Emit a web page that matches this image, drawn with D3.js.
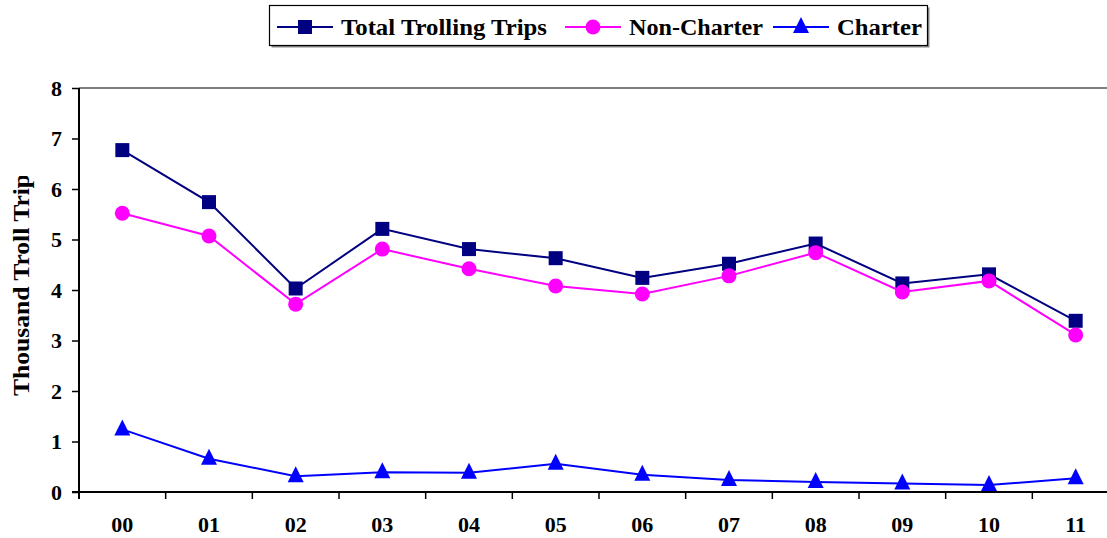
<!DOCTYPE html>
<html><head><meta charset="utf-8">
<script src="https://cdn.jsdelivr.net/npm/d3@7"></script>
<style>body{margin:0;background:#fff}svg{display:block}</style>
</head><body>
<svg id="c" width="1107" height="538"></svg>
<script>
const categories = ["00","01","02","03","04","05","06","07","08","09","10","11"];
const totalTrips = [6.77,5.74,4.03,5.21,4.81,4.63,4.24,4.52,4.92,4.13,4.31,3.39];
const nonCharter = [5.52,5.07,3.72,4.81,4.42,4.08,3.92,4.28,4.74,3.96,4.18,3.11];
const charter = [1.24,0.66,0.31,0.39,0.38,0.56,0.34,0.24,0.20,0.17,0.14,0.27];
const yTicks = [0,1,2,3,4,5,6,7,8];
const seriesNames = ["Total Trolling Trips","Non-Charter","Charter"];

(function () {
const series = [
  {name: seriesNames[0], values: totalTrips, color: "#000080", marker: "square", legendW: 206},
  {name: seriesNames[1], values: nonCharter, color: "#FF00FF", marker: "circle", legendW: 134},
  {name: seriesNames[2], values: charter, color: "#0000FF", marker: "triangle", legendW: 85}
];

const svg = d3.select("#c");
const font = "'Liberation Serif','Times New Roman',serif";
const pLeft = 79, pRight = 1119, pTop = 88, pBottom = 492;

const x = d3.scaleBand().domain(categories).range([pLeft, pRight]);
const y = d3.scaleLinear().domain([0, 8]).range([pBottom, pTop]);

function drawMarker(g, type, cx, cy, color) {
  if (type === "square") {
    g.append("rect").attr("x", cx - 7).attr("y", cy - 7).attr("width", 14).attr("height", 14).attr("fill", color);
  } else if (type === "circle") {
    g.append("circle").attr("cx", cx).attr("cy", cy).attr("r", 7.5).attr("fill", color);
  } else {
    g.append("path").attr("d", `M${cx},${cy - 10}L${cx + 8},${cy + 6}L${cx - 8},${cy + 6}Z`).attr("fill", color);
  }
}

// top border of plot area
svg.append("line").attr("x1", pLeft).attr("x2", 1107).attr("y1", pTop).attr("y2", pTop)
  .attr("stroke", "#555").attr("stroke-width", 1.5);

// Y axis
const yAxis = d3.axisLeft(y).tickValues(yTicks).tickSize(7).tickPadding(10).tickFormat(d3.format("d"));
const gy = svg.append("g").attr("transform", `translate(${pLeft},0)`).call(yAxis);
gy.select(".domain").attr("stroke", "#000").attr("stroke-width", 2).attr("d", `M0,${pTop}V${pBottom + 7}`);
gy.selectAll(".tick line").attr("stroke", "#000").attr("stroke-width", 1.5);
gy.selectAll(".tick text").attr("font-family", font).attr("font-weight", "bold").attr("font-size", 22).attr("fill", "#000");

// X axis
const gx = svg.append("g").attr("transform", `translate(0,${pBottom})`);
gx.append("line").attr("x1", pLeft - 7).attr("x2", 1107).attr("stroke", "#000").attr("stroke-width", 2);
categories.forEach(c => {
  gx.append("line").attr("x1", x(c)).attr("x2", x(c)).attr("y1", 0).attr("y2", 7).attr("stroke", "#000").attr("stroke-width", 1.5);
  gx.append("text").attr("x", x(c) + x.bandwidth() / 2).attr("y", 40).attr("text-anchor", "middle")
    .attr("font-family", font).attr("font-weight", "bold").attr("font-size", 22).text(c);
});

// Y label (clipped at the top as in reference)
svg.append("clipPath").attr("id", "ylab").append("rect").attr("x", 0).attr("y", 176).attr("width", 45).attr("height", 300);
svg.append("g").attr("clip-path", "url(#ylab)")
  .append("text")
  .attr("transform", "translate(29,396) rotate(-90)")
  .attr("font-family", font).attr("font-weight", "bold").attr("font-size", 23)
  .attr("textLength", 232).attr("lengthAdjust", "spacingAndGlyphs")
  .text("Thousand Troll Trips");

// Series
const line = d3.line().x((d, i) => x(categories[i]) + x.bandwidth() / 2).y(d => y(d));
series.forEach(s => {
  svg.append("path").attr("d", line(s.values)).attr("fill", "none").attr("stroke", s.color).attr("stroke-width", 2);
  const g = svg.append("g");
  s.values.forEach((v, i) => drawMarker(g, s.marker, x(categories[i]) + x.bandwidth() / 2, y(v), s.color));
});

// Legend
const lg = svg.append("g");
lg.append("rect").attr("x", 271.5).attr("y", 7.5).attr("width", 658).attr("height", 40).attr("fill", "#888");
lg.append("rect").attr("x", 269.5).attr("y", 5.5).attr("width", 658).attr("height", 40).attr("fill", "#fff").attr("stroke", "#000").attr("stroke-width", 1.2);
const legX = [277, 565, 773];
series.forEach((s, i) => {
  const lx = legX[i], ly = 27;
  lg.append("line").attr("x1", lx).attr("x2", lx + 56).attr("y1", ly).attr("y2", ly).attr("stroke", s.color).attr("stroke-width", 2);
  drawMarker(lg, s.marker, lx + 28, ly, s.color);
  lg.append("text").attr("x", lx + 64).attr("y", ly + 8).attr("font-family", font).attr("font-weight", "bold").attr("font-size", 24)
    .attr("textLength", s.legendW).attr("lengthAdjust", "spacingAndGlyphs").text(s.name);
});
})();
</script>
</body></html>
